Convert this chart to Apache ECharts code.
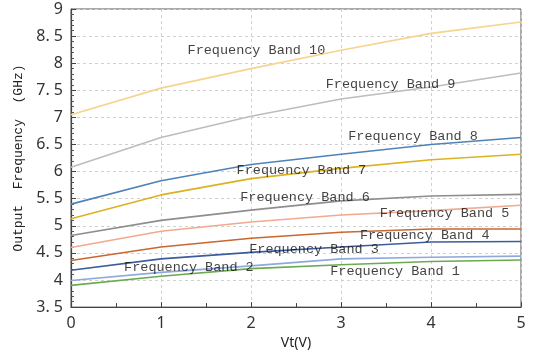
<!DOCTYPE html>
<html>
<head>
<meta charset="utf-8">
<script src="https://cdn.jsdelivr.net/npm/echarts@6/dist/echarts.min.js"></script>
<style>
  html, body { margin: 0; padding: 0; background: #fff; }
  #chart { width: 533px; height: 355px; }
</style>
</head>
<body>
<div id="chart"></div>
<script>
// Vt (V)
var vt = [0, 1, 2, 3, 4, 5];

// output frequency (GHz) per band, read at each Vt
var band1  = [3.90, 4.07, 4.21, 4.28, 4.34, 4.37];
var band2  = [3.99, 4.14, 4.26, 4.39, 4.42, 4.44];
var band3  = [4.18, 4.39, 4.51, 4.61, 4.70, 4.71];
var band4  = [4.36, 4.61, 4.77, 4.88, 4.94, 4.94];
var band5  = [4.60, 4.90, 5.07, 5.20, 5.28, 5.38];
var band6  = [4.82, 5.10, 5.29, 5.46, 5.55, 5.58];
var band7  = [5.13, 5.57, 5.87, 6.06, 6.22, 6.32];
var band8  = [5.40, 5.83, 6.13, 6.32, 6.50, 6.63];
var band9  = [6.08, 6.63, 7.02, 7.34, 7.56, 7.82];
var band10 = [7.05, 7.54, 7.90, 8.24, 8.55, 8.76];

var bandNames = ['Frequency Band 1', 'Frequency Band 2', 'Frequency Band 3', 'Frequency Band 4',
  'Frequency Band 5', 'Frequency Band 6', 'Frequency Band 7', 'Frequency Band 8',
  'Frequency Band 9', 'Frequency Band 10'];
var bandData = [band1, band2, band3, band4, band5, band6, band7, band8, band9, band10];

// where each band's name sits, in axis units (Vt, GHz)
var labelVt  = [3.60, 1.31, 2.70, 3.93, 4.15, 2.60, 2.56, 3.80, 3.55, 2.06];
var labelGHz = [4.16, 4.24, 4.56, 4.82, 5.23, 5.52, 6.02, 6.65, 7.60, 8.23];

var colors = ['#6aab4f', '#8fa9de', '#3d5c9c', '#c9672e', '#f1a98f',
  '#8e8e8e', '#dcb221', '#4f83b8', '#bdbdbd', '#f6d48e'];

var monoFont = '"Liberation Mono", "DejaVu Sans Mono", monospace';

var series = bandData.map(function (d, i) {
  return {
    name: bandNames[i],
    type: 'line',
    data: vt.map(function (x, j) { return [x, d[j]]; }),
    symbol: 'none',
    lineStyle: { color: colors[i], width: 1.6 },
    z: 2
  };
});

// band names, placed through the axes
series.push({
  type: 'scatter',
  symbolSize: 0,
  silent: true,
  z: 5,
  data: bandNames.map(function (n, i) { return { value: [labelVt[i], labelGHz[i]], name: n }; }),
  label: {
    show: true,
    position: 'inside',
    formatter: '{b}',
    fontFamily: monoFont,
    fontSize: 13.5,
    color: '#111'
  }
});

var chart = echarts.init(document.getElementById('chart'));
chart.setOption({
  animation: false,
  grid: {
    left: 71, right: 12, top: 9, bottom: 46,
    show: true, borderColor: '#555', borderWidth: 1
  },
  xAxis: {
    type: 'value',
    min: 0, max: 5, interval: 1,
    name: 'Vt(V)',
    nameLocation: 'middle',
    nameGap: 27,
    nameTextStyle: { fontFamily: 'Noto Sans', fontSize: 14, color: '#222' },
    axisLine: { lineStyle: { color: '#444', width: 1.2 } },
    axisTick: { inside: true, length: 5, lineStyle: { color: '#444' } },
    minorTick: { show: true, splitNumber: 2, length: 4, lineStyle: { color: '#444' } },
    axisLabel: { fontFamily: 'Noto Sans', fontSize: 16, color: '#333', margin: 8 },
    splitLine: { show: true, lineStyle: { color: '#d0d0d0', type: [3, 3] } }
  },
  yAxis: {
    type: 'value',
    min: 3.5, max: 9, interval: 0.5,
    name: 'Output  Frequency  (GHz)',
    nameLocation: 'middle',
    nameGap: 43,
    nameRotate: 90,
    nameTextStyle: { fontFamily: monoFont, fontSize: 13, color: '#222' },
    axisLine: { lineStyle: { color: '#444', width: 1.2 } },
    axisTick: { inside: true, length: 5, lineStyle: { color: '#444' } },
    minorTick: { show: true, splitNumber: 5, length: 3, lineStyle: { color: '#555' } },
    axisLabel: {
      fontFamily: 'Noto Sans', fontSize: 16, color: '#333', margin: 8,
      formatter: function (v) { return String(v).replace('.', '. '); }
    },
    splitLine: { show: true, lineStyle: { color: '#d0d0d0', type: [3, 3] } }
  },
  series: series
});
window.addEventListener('resize', function () {
  chart.resize();
});
</script>
</body>
</html>
